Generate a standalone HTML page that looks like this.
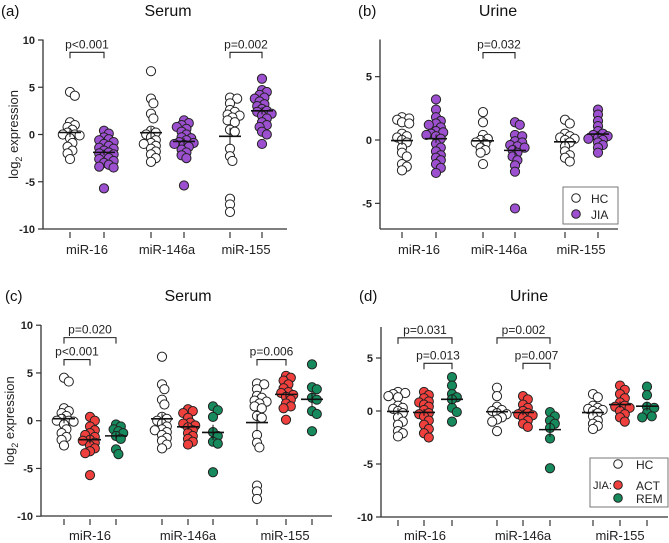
<!DOCTYPE html>
<html><head><meta charset="utf-8"><style>
html,body{margin:0;padding:0;background:#fff;}
svg{display:block;font-family:"Liberation Sans",Arial,sans-serif;}
</style></head><body>
<svg id="chart" width="669" height="543" viewBox="0 0 669 543" xmlns="http://www.w3.org/2000/svg"></svg>
<script>
// ---- data (log2 expression) ----
const categories = ["miR-16","miR-146a","miR-155"];
const yTicksSerum = [-10,-5,0,5,10];
const yTicksUrineB = [-5,0,5];
const yTicksUrineD = [-10,-5,0,5];
// Serum HC
const serumHC16 = [4.5,4.1,1.3,1.0,0.8,0.5,0.2,0.0,0.0,-0.1,-0.4,-0.9,-1.3,-1.7,-2.0,-2.6];
const serumHC146 = [6.7,3.8,3.3,2.2,1.7,0.4,0.2,0.0,-0.3,-0.6,-0.9,-1.0,-1.2,-1.5,-1.8,-2.1,-2.5,-2.9];
const serumHC155 = [3.9,3.8,3.3,2.6,2.4,2.1,2.0,1.8,1.5,1.3,0.5,0.3,-1.5,-2.3,-2.8,-6.8,-7.4,-8.2];
// Serum JIA
const serumJIA16 = [0.4,0.1,-0.3,-0.5,-0.6,-0.8,-1.0,-1.2,-1.4,-1.5,-1.7,-1.9,-2.0,-2.1,-2.3,-2.5,-2.6,-2.8,-3.0,-3.2,-3.4,-3.5,-5.7];
const serumJIA146 = [1.5,1.2,1.0,0.8,0.6,0.3,0.0,-0.3,-0.4,-0.6,-0.8,-0.9,-1.0,-1.1,-1.3,-1.6,-1.9,-2.2,-2.5,-5.4];
const serumJIA155 = [5.9,4.7,4.5,4.2,3.9,3.8,3.5,3.2,3.0,2.7,2.5,2.4,2.2,2.0,1.7,1.3,1.0,0.8,0.3,0.0,-1.0];
// Serum JIA subgroups
const serumACT16 = [0.4,0.0,-0.6,-1.0,-1.3,-1.5,-1.7,-2.0,-2.1,-2.3,-2.6,-2.9,-3.2,-3.4,-5.7];
const serumREM16 = [-0.4,-0.6,-0.9,-1.1,-1.3,-1.6,-1.9,-3.0,-3.5];
const serumACT146 = [1.2,1.0,0.8,0.3,-0.2,-0.3,-0.5,-0.7,-1.0,-1.3,-1.6,-1.9,-2.2,-2.5];
const serumREM146 = [1.5,1.1,0.4,-1.2,-1.6,-2.2,-2.4,-5.4];
const serumACT155 = [4.7,4.5,4.2,3.8,3.4,3.0,2.9,2.7,2.5,2.2,1.8,1.5,1.3,0.1];
const serumREM155 = [5.9,3.5,3.3,2.4,2.2,1.0,0.7,-1.1];
// Urine HC
const urineHC16 = [1.8,1.7,1.6,1.4,1.3,0.5,0.3,0.2,0.0,-0.2,-0.6,-1.0,-1.3,-1.9,-2.1,-2.4];
const urineHC146 = [2.2,1.4,0.4,0.1,0.0,-0.2,-0.3,-0.6,-0.8,-1.0,-1.9];
const urineHC155 = [1.6,1.3,0.5,0.3,0.2,0.1,0.0,-0.2,-0.5,-0.9,-1.2,-1.4,-1.7];
// Urine JIA
const urineJIA16 = [3.2,2.4,1.8,1.5,1.3,1.2,1.0,0.7,0.6,0.5,0.4,0.3,0.1,-0.3,-0.6,-0.9,-1.2,-1.4,-1.6,-1.9,-2.2,-2.6];
const urineJIA146 = [1.4,1.2,0.4,0.3,-0.1,-0.2,-0.4,-0.5,-0.6,-0.8,-1.0,-1.3,-1.6,-2.0,-2.5,-5.4];
const urineJIA155 = [2.4,2.0,1.5,1.1,0.7,0.5,0.4,0.3,0.2,0.1,0.0,-0.2,-0.4,-0.6,-1.0];
// Urine JIA subgroups
const urineACT16 = [1.8,1.5,1.2,0.9,0.8,0.6,0.4,0.1,-0.2,-0.3,-0.5,-0.9,-1.3,-1.7,-2.1,-2.5];
const urineREM16 = [3.2,2.4,1.6,1.3,1.1,0.3,-0.1,-1.0];
const urineACT146 = [1.4,1.1,0.6,0.3,0.0,-0.2,-0.3,-0.4,-0.6,-0.9,-1.2,-1.5];
const urineREM146 = [-0.1,-0.5,-0.9,-1.2,-1.6,-2.6,-5.4];
const urineACT155 = [2.4,2.0,1.6,1.2,0.8,0.5,0.4,0.3,0.0,-0.3,-0.6,-1.0];
const urineREM155 = [2.3,1.5,0.4,0.3,-0.2,-0.5,-0.6];

const WHITE="#ffffff", PURPLE="#9c4fcf", RED="#f0403d", GREEN="#168a5c";
const NS="http://www.w3.org/2000/svg";
const svg=document.getElementById('chart');
function mk(tag,attrs,parent,text){const e=document.createElementNS(NS,tag);for(const k in attrs)e.setAttribute(k,attrs[k]);if(text!==undefined)e.textContent=text;(parent||svg).appendChild(e);return e;}

const panels=[
 {id:'a',label:'(a)',title:'Serum',lx:1,tx:168,ty:16,ax:43,y0:134.5,sc:9.45,top:39.5,bot:229,xend:287,ticks:yTicksSerum,ylab:true,
  gx:[70,104,151,184,230,262],
  groups:[[serumHC16,WHITE],[serumJIA16,PURPLE],[serumHC146,WHITE],[serumJIA146,PURPLE],[serumHC155,WHITE],[serumJIA155,PURPLE]],
  labx:[87,167,246],laby:254,
  br:[[0,1,8.7,'p<0.001'],[4,5,8.7,'p=0.002']]},
 {id:'b',label:'(b)',title:'Urine',lx:358,tx:498,ty:16,ax:380,y0:140,sc:12.67,top:39.5,bot:229,xend:618,ticks:yTicksUrineB,ylab:false,
  gx:[402,436,483,515,565,598],
  groups:[[urineHC16,WHITE],[urineJIA16,PURPLE],[urineHC146,WHITE],[urineJIA146,PURPLE],[urineHC155,WHITE],[urineJIA155,PURPLE]],
  labx:[419,499,581],laby:254,
  br:[[2,3,6.9,'p=0.032']]},
 {id:'c',label:'(c)',title:'Serum',lx:5,tx:188,ty:301,ax:41,y0:420.7,sc:9.55,top:325,bot:516,xend:332,ticks:yTicksSerum,ylab:true,
  gx:[64,90,116,162,188,213,257,286,312],
  groups:[[serumHC16,WHITE],[serumACT16,RED],[serumREM16,GREEN],[serumHC146,WHITE],[serumACT146,RED],[serumREM146,GREEN],[serumHC155,WHITE],[serumACT155,RED],[serumREM155,GREEN]],
  labx:[90,188,285],laby:540,
  br:[[0,2,8.7,'p=0.020'],[0,1,6.4,'p<0.001'],[6,7,6.4,'p=0.006']]},
 {id:'d',label:'(d)',title:'Urine',lx:359,tx:529,ty:301,ax:381,y0:411,sc:10.6,top:327,bot:517,xend:668,ticks:yTicksUrineD,ylab:false,
  gx:[398,424,452,497,523,550,593,620,647],
  groups:[[urineHC16,WHITE],[urineACT16,RED],[urineREM16,GREEN],[urineHC146,WHITE],[urineACT146,RED],[urineREM146,GREEN],[urineHC155,WHITE],[urineACT155,RED],[urineREM155,GREEN]],
  labx:[425,523,620],laby:540,
  br:[[0,2,6.9,'p=0.031'],[1,2,4.5,'p=0.013'],[3,5,6.9,'p=0.002'],[4,5,4.5,'p=0.007']]}
];

const R=4.6;
panels.forEach(p=>{
  const g=mk('g',{},svg);
  
  
  const Y=v=>p.y0-v*p.sc;
  const pl=mk('text',{x:p.lx,y:p.ty,'font-size':15,fill:'#111'},g,p.label);
  
  
  const tt=mk('text',{x:p.tx,y:p.ty,'font-size':16,fill:'#111','text-anchor':'middle'},g,p.title);
  
  
  const ya=mk('line',{x1:p.ax,y1:p.top,x2:p.ax,y2:p.bot,stroke:'#333','stroke-width':1.3},g);
  
  
  const xa=mk('line',{x1:p.ax,y1:p.bot,x2:p.xend,y2:p.bot,stroke:'#333','stroke-width':1.3},g);
  
  
  p.ticks.forEach(t=>{
    mk('line',{x1:p.ax-5,y1:Y(t),x2:p.ax,y2:Y(t),stroke:'#333','stroke-width':1.2},g);
    const tl=mk('text',{x:p.ax-8,y:Y(t)+4,'font-size':11,'font-weight':'bold','text-anchor':'end',fill:'#222'},g,String(t));
    
    
  });
  p.gx.forEach(x=>mk('line',{x1:x,y1:p.bot+3,x2:x,y2:p.bot+9,stroke:'#333','stroke-width':1.2},g));
  categories.forEach((c,i)=>{
    const cl=mk('text',{x:p.labx[i],y:p.laby,'font-size':13,'text-anchor':'middle',fill:'#222'},g,c);
    
    
  });
  if(p.ylab){
    const yl=mk('text',{x:0,y:0,'font-size':13,fill:'#222','text-anchor':'middle',transform:`translate(${p.id==='a'?18:14},${p.y0}) rotate(-90)`},g);
    
    
    mk('tspan',{},yl,'log');
    mk('tspan',{dy:4,'font-size':9},yl,'2');
    mk('tspan',{dy:-4},yl,' expression');
  }
  p.groups.forEach(([data,col],gi)=>{
    const cx=p.gx[gi];
    const placed=[];
    const cands=[0];for(let k=1;k<=4;k++){cands.push(k*2.4,-k*2.4);}
    data.forEach(v=>{
      const y=Y(v);let best=0,bestD=-1;
      for(const o of cands){
        const d=placed.length?Math.min(...placed.map(q=>Math.hypot(q[0]-(cx+o),q[1]-y))):99;
        if(d>R*1.1){best=o;bestD=d;break;}
        if(d>bestD){bestD=d;best=o;}
      }
      placed.push([cx+best,y]);
      const c=mk('circle',{cx:cx+best,cy:y,r:R,fill:col,stroke:'#222','stroke-width':1},g);
      
      
    });
    const n=data.length, mean=data.reduce((a,b)=>a+b,0)/n;
    const sd=Math.sqrt(data.reduce((a,b)=>a+(b-mean)**2,0)/(n-1)), sem=sd/Math.sqrt(n);
    mk('line',{x1:cx,y1:Y(mean+sem),x2:cx,y2:Y(mean-sem),stroke:'#111','stroke-width':1},g);
    const ml=mk('line',{x1:cx-11,y1:Y(mean),x2:cx+11,y2:Y(mean),stroke:'#111','stroke-width':1.6},g);
    
    
  });
  p.br.forEach(([a,b,v,t])=>{
    const y=Y(v),x1=p.gx[a],x2=p.gx[b];
    const br=mk('path',{d:`M${x1},${y+6}V${y}H${x2}V${y+6}`,fill:'none',stroke:'#222','stroke-width':1.1},g);
    
    
    const bt=mk('text',{x:(x1+x2)/2,y:y-4,'font-size':12,'text-anchor':'middle',fill:'#222'},g,t);
    
    
  });
});

const lb=mk('g',{},svg);


mk('rect',{x:563,y:187,width:55,height:37,fill:'#fff',stroke:'#777','stroke-width':1},lb);
mk('circle',{cx:576,cy:198,r:4.3,fill:WHITE,stroke:'#222'},lb);
mk('text',{x:591,y:203,'font-size':12,fill:'#222'},lb,'HC');
mk('circle',{cx:576,cy:214,r:4.3,fill:PURPLE,stroke:'#222'},lb);
mk('text',{x:591,y:219,'font-size':12,fill:'#222'},lb,'JIA');

const ld=mk('g',{},svg);


mk('rect',{x:590,y:458,width:78,height:49,fill:'#fff',stroke:'#777','stroke-width':1},ld);
mk('circle',{cx:618,cy:464,r:4.3,fill:WHITE,stroke:'#222'},ld);
mk('text',{x:636,y:469,'font-size':12,fill:'#222'},ld,'HC');
mk('text',{x:593,y:489,'font-size':11,fill:'#222'},ld,'JIA:');
mk('circle',{cx:618,cy:485,r:4.3,fill:RED,stroke:'#222'},ld);
mk('text',{x:636,y:490,'font-size':12,fill:'#222'},ld,'ACT');
mk('circle',{cx:618,cy:498,r:4.3,fill:GREEN,stroke:'#222'},ld);
mk('text',{x:636,y:503,'font-size':12,fill:'#222'},ld,'REM');
</script>
</body></html>
